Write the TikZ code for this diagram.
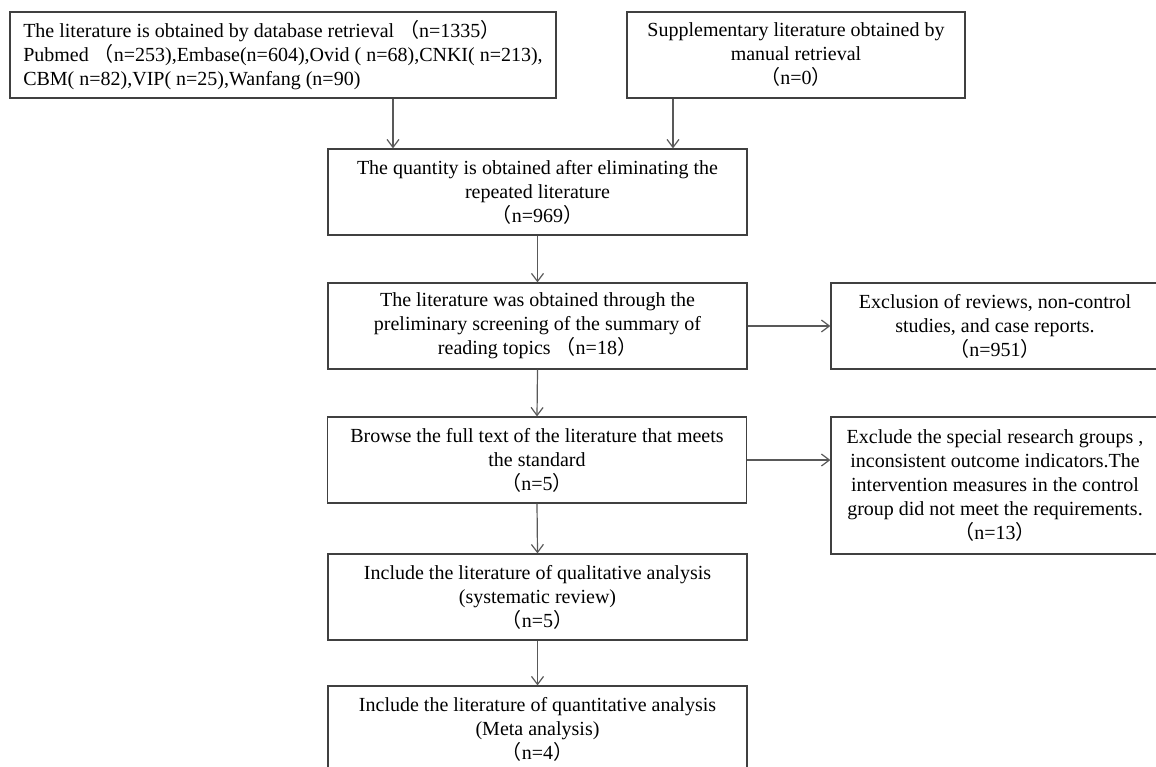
\documentclass[tikz,border=0pt]{standalone}
\usepackage{fontspec}
\setmainfont{Liberation Serif}
\newfontfamily\cjk{Noto Sans CJK SC}
\usetikzlibrary{arrows.meta,calc}
\newcommand{\lpar}{{\cjk （}}
\newcommand{\rpar}{{\cjk ）}}
\tikzset{
  box/.style={draw={rgb, 255:red, 64; green, 64; blue, 64 }, line width=0.9pt, align=center,
    font=\fontsize{15}{18}\selectfont, inner sep=2pt, minimum width=314.25pt, minimum height=64.5pt},
  arr/.style={draw={rgb, 255:red, 89; green, 89; blue, 89 }, line width=0.9pt,
    -{Straight Barb[length=6pt,width=9pt]}}
}
\begin{document}
\begin{tikzpicture}[x=0.75pt,y=0.75pt,yscale=-1,xscale=1]
        \clip (0,0) rectangle (1156,767);

        %Database retrieval
        \node[box,align=left,minimum width=409.5pt] (dbase) at (283,55) {The literature is obtained by database retrieval \lpar n=1335\rpar\\Pubmed \lpar n=253),Embase(n=604),Ovid ( n=68),CNKI( n=213),\\CBM( n=82),VIP( n=25),Wanfang (n=90)};
        %Manual retrieval
        \node[box,minimum width=253.5pt] (manual) at (796,55) {Supplementary literature obtained by\\manual retrieval\\\lpar n=0\rpar};
        %Duplicates removed
        \node[box] (dedup) at (537.5,192) {The quantity is obtained after eliminating the\\repeated literature\\\lpar n=969\rpar};
        %Screening
        \node[box] (screen) at (537.5,326) {The literature was obtained through the\\preliminary screening of the summary of\\reading topics \lpar n=18\rpar};
        \node[box,minimum width=246pt] (excla) at (995,326) {Exclusion of reviews, non-control\\studies, and case reports.\\\lpar n=951\rpar};
        %Full text
        \node[box] (fulltext) at (537,460) {Browse the full text of the literature that meets\\the standard\\\lpar n=5\rpar};
        \node[box,minimum width=246pt,minimum height=102.75pt] (exclb) at (995,485.5) {Exclude the special research groups ,\\inconsistent outcome indicators.The\\intervention measures in the control\\group did not meet the requirements.\\\lpar n=13\rpar};
        %Included
        \node[box] (qual) at (537.5,597) {Include the literature of qualitative analysis\\(systematic review)\\\lpar n=5\rpar};
        \node[box] (quant) at (537.5,729) {Include the literature of quantitative analysis\\(Meta analysis)\\\lpar n=4\rpar};

        %Arrows
        \coordinate (a1) at ($(dbase.south)+(110,0)$);
        \coordinate (a2) at ($(manual.south)+(-123,0)$);
        \draw[arr] (a1) -- (a1 |- dedup.north);
        \draw[arr] (a2) -- (a2 |- dedup.north);
        \draw[arr] (dedup.south) -- (screen.north);
        \draw[arr] (screen.east) -- (excla.west);
        \draw[arr] (screen.south) -- (fulltext.north);
        \draw[arr] (fulltext.east) -- (fulltext.east -| exclb.west);
        \draw[arr] (fulltext.south) -- (qual.north);
        \draw[arr] (qual.south) -- (quant.north);

    \end{tikzpicture}
\end{document}
